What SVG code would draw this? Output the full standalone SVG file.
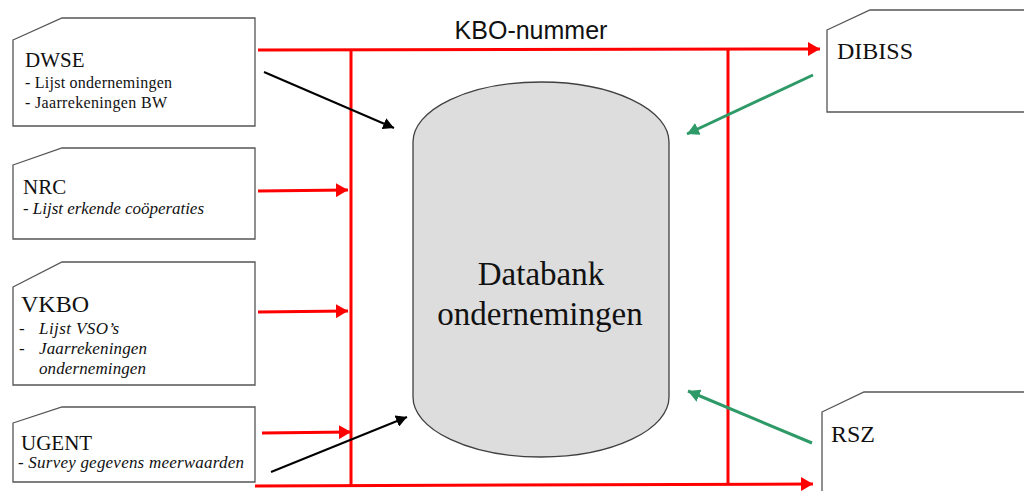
<svg xmlns="http://www.w3.org/2000/svg" width="1024" height="491" viewBox="0 0 1024 491">
  <defs>
    <marker id="ahRed" markerUnits="userSpaceOnUse" markerWidth="13" markerHeight="14" refX="12" refY="7" orient="auto">
      <path d="M0,0 L12,7 L0,14 Z" fill="#ff0000"/>
    </marker>
    <marker id="ahBlack" markerUnits="userSpaceOnUse" markerWidth="12" markerHeight="12" refX="11" refY="6" orient="auto">
      <path d="M0,0 L11,6 L0,12 Z" fill="#000000"/>
    </marker>
    <marker id="ahGreen" markerUnits="userSpaceOnUse" markerWidth="13" markerHeight="13" refX="12" refY="6.5" orient="auto">
      <path d="M0,0 L12,6.5 L0,13 Z" fill="#2e9a68"/>
    </marker>
  </defs>
  <style>
    .box { fill: #ffffff; stroke: #555555; stroke-width: 1.3; }
    .title { font-family: "Liberation Serif", "Times New Roman", serif; font-size: 21px; fill: #111111; }
    .rtitle { font-family: "Liberation Serif", "Times New Roman", serif; font-size: 24px; fill: #111111; }
    .item { font-family: "Liberation Serif", "Times New Roman", serif; font-size: 16px; fill: #111111; }
    .itemi { font-family: "Liberation Serif", "Times New Roman", serif; font-size: 17px; font-style: italic; fill: #111111; }
    .red { stroke: #ff0000; stroke-width: 3; fill: none; }
    .redA { stroke: #ff0000; stroke-width: 3; fill: none; marker-end: url(#ahRed); }
    .blackA { stroke: #000000; stroke-width: 2; fill: none; marker-end: url(#ahBlack); }
    .greenA { stroke: #2e9a68; stroke-width: 3; fill: none; marker-end: url(#ahGreen); }
    .db { fill: #dddddd; stroke: #404040; stroke-width: 1.3; }
    .dbtext { font-family: "Liberation Serif", "Times New Roman", serif; font-size: 33px; fill: #111111; text-anchor: middle; }
    .label { font-family: "Liberation Sans", Arial, sans-serif; font-size: 25px; fill: #111111; text-anchor: middle; }
  </style>

  <g id="database">
    <path class="db" d="M413,142 A128,60 0 0 1 669,142 L669,397 A128,60 0 0 1 413,397 Z"/>
    <text class="dbtext" x="541" y="285">Databank</text>
    <text class="dbtext" x="540" y="325">ondernemingen</text>
  </g>

  <g id="connectors">
    <line class="red" x1="351" y1="50" x2="351" y2="486"/>
    <line class="red" x1="728" y1="50" x2="728" y2="485"/>
    <line class="redA" x1="258" y1="50" x2="820" y2="49"/>
    <line class="redA" x1="255" y1="486" x2="813" y2="484"/>
    <line class="redA" x1="258" y1="191" x2="348" y2="190"/>
    <line class="redA" x1="258" y1="312" x2="348" y2="311"/>
    <line class="redA" x1="262" y1="433" x2="351" y2="432"/>
    <line class="blackA" x1="264" y1="72" x2="394" y2="128"/>
    <line class="blackA" x1="271" y1="472" x2="407" y2="417"/>
    <line class="greenA" x1="813" y1="75" x2="687" y2="134"/>
    <line class="greenA" x1="812" y1="443" x2="688" y2="391"/>
  </g>

  <g id="kbo-label">
    <text class="label" x="531" y="39">KBO-nummer</text>
  </g>

  <g id="dwse">
    <path class="box" d="M13,40 L62,18 L255,18 L255,126 L13,126 Z"/>
    <text class="title" x="25" y="67">DWSE</text>
    <text class="item" x="25" y="88" textLength="147" lengthAdjust="spacing">- Lijst  ondernemingen</text>
    <text class="item" x="25" y="108" textLength="142" lengthAdjust="spacing">- Jaarrekeningen  BW</text>
  </g>

  <g id="nrc">
    <path class="box" d="M13,165 L62,148 L255,148 L255,239 L13,239 Z"/>
    <text class="title" x="23" y="194">NRC</text>
    <text class="itemi" x="23" y="214" textLength="181" lengthAdjust="spacing">- Lijst erkende coöperaties</text>
  </g>

  <g id="vkbo">
    <path class="box" d="M13,287 L62,262 L255,262 L255,385 L13,385 Z"/>
    <text class="rtitle" x="21" y="312">VKBO</text>
    <text class="itemi" x="19" y="334">-</text>
    <text class="itemi" x="39" y="334" textLength="80" lengthAdjust="spacing">Lijst  VSO’s</text>
    <text class="itemi" x="19" y="354">-</text>
    <text class="itemi" x="39" y="354" textLength="108" lengthAdjust="spacing">Jaarrekeningen</text>
    <text class="itemi" x="39" y="374" textLength="107" lengthAdjust="spacing">ondernemingen</text>
  </g>

  <g id="ugent">
    <path class="box" d="M13,423 L62,407 L255,407 L255,482 L13,482 Z"/>
    <text class="title" x="21" y="450">UGENT</text>
    <text class="itemi" x="18" y="468" textLength="226" lengthAdjust="spacing">- Survey gegevens meerwaarden</text>
  </g>

  <g id="dibiss">
    <path class="box" d="M827,30 L870,10 L1030,10 L1030,112 L827,112 Z"/>
    <text class="rtitle" x="837" y="59">DIBISS</text>
  </g>

  <g id="rsz">
    <path class="box" d="M822,412 L864,392 L1030,392 L1030,500 L822,500 Z"/>
    <text class="rtitle" x="831" y="442">RSZ</text>
  </g>
</svg>
